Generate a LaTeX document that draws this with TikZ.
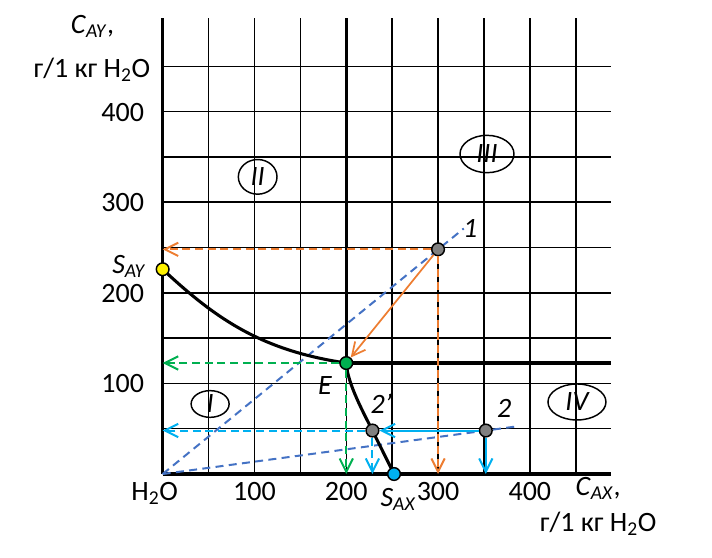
\documentclass[tikz,border=0pt]{standalone}
\usepackage{fontspec}
\setmainfont{Carlito}
\usetikzlibrary{arrows.meta,shapes.geometric}

\definecolor{tieblue}{RGB}{68,114,196}
\definecolor{arrorange}{RGB}{237,125,49}
\definecolor{eqgreen}{RGB}{0,176,80}
\definecolor{rafcyan}{RGB}{0,176,240}
\definecolor{ptgray}{RGB}{128,128,128}

\begin{document}
\begin{tikzpicture}[x=0.6885pt,y=0.6795pt,>={Straight Barb[length=10pt,width=10pt]},
  font=\fontsize{21}{25}\selectfont]
  \tikzstyle{gridline}=[line width=1.1pt]
  \tikzstyle{boldline}=[line width=2.3pt]
  \tikzstyle{tie}=[tieblue,line width=1.5pt,dash pattern=on 6pt off 4pt]
  \tikzstyle{proj}=[->,line width=1.5pt,dash pattern=on 6pt off 3.5pt]
  \tikzstyle{dot}=[circle,draw=black,line width=1.1pt,inner sep=0pt,minimum size=9.5pt]
  \tikzstyle{region}=[ellipse,draw=black,line width=1.1pt,inner sep=0pt,font=\fontsize{21}{25}\selectfont\itshape]
  \tikzstyle{lbl}=[inner sep=0pt]

  \useasboundingbox (-177.2,-91.6) rectangle (598.4,523.2);

  % grid
  \foreach \gx in {50,100,...,450}
    \draw[gridline] (\gx,0) -- (\gx,503);
  \foreach \gy in {50,100,...,450}
    \draw[gridline] (0,\gy) -- (488,\gy);

  % axes
  \coordinate (O) at (0,0);
  \coordinate (xend) at (488,0);
  \coordinate (yend) at (0,503);
  \draw[boldline] (O) -- (xend);
  \draw[boldline] (O) -- (yend);

  % tie lines
  \coordinate (t1) at (328,271);
  \coordinate (t2) at (386,52.6);
  \draw[tie] (O) -- (t1);
  \draw[tie] (O) -- (t2);

  % region borders and solubility curve
  \coordinate (Ec) at (200,122.5);
  \coordinate (Etop) at (200,503);
  \coordinate (Eright) at (488,122.5);
  \coordinate (SAYc) at (0,226);
  \coordinate (SAXc) at (252,0);
  \coordinate (p2pc) at (228.5,48);
  \draw[boldline] (Ec) -- (Etop);
  \draw[boldline] (Ec) -- (Eright);
  \draw[boldline] (SAYc) .. controls (60,169) and (110,136) .. (Ec);
  \draw[boldline,line join=round] (Ec) .. controls (201,100) and (220.5,64.3) .. (p2pc) -- (SAXc);

  % points
  \node[dot,fill=yellow]     (SAY) at (SAYc) {};
  \node[dot,fill=eqgreen]    (E)   at (Ec) {};
  \node[dot,fill=rafcyan]    (SAX) at (SAXc) {};
  \node[dot,fill=ptgray]     (p1)  at (300,248) {};
  \node[dot,fill=ptgray]     (p2)  at (352,48) {};
  \node[dot,fill=ptgray]     (p2p) at (p2pc) {};

  % projections
  \draw[proj,arrorange] (p1) -- (p1 -| O);
  \draw[proj,arrorange] (p1) -- (p1 |- O);
  \draw[->,arrorange,line width=1.3pt] (p1) -- (E);
  \draw[proj,eqgreen] (E) -- (E -| O);
  \draw[proj,eqgreen] (E) -- (E |- O);
  \draw[->,rafcyan,line width=1.5pt] (p2) -- (p2p);
  \draw[->,rafcyan,line width=1.5pt] (p2) -- (p2 |- O);
  \draw[proj,rafcyan] (p2p) -- (p2p -| O);
  \draw[proj,rafcyan] (p2p) -- (p2p |- O);

  % regions
  \node[region,minimum width=28.5pt,minimum height=20pt] (rI)   at (51.7,77.3)  {I};
  \node[region,minimum width=29pt,minimum height=26pt]   (rII)  at (103.5,328)  {II};
  \node[region,minimum width=40.5pt,minimum height=28pt] (rIII) at (353.3,353.2) {III};
  \node[region,minimum width=43.5pt,minimum height=27pt] (rIV)  at (451.3,79.5) {IV};

  % tick labels
  \foreach \v in {100,200,300,400}
    \node[lbl,anchor=base east] (ty\v) at (-20,\v-10.5) {\v};
  \foreach \v in {100,200,300,400}
    \node[lbl,anchor=base] (tx\v) at (\v,-28.7) {\v};
  \node[lbl,anchor=base] (tx0) at (-8.7,-28.7) {H\textsubscript{2}O};

  % axis titles
  \node[lbl,anchor=base] (cay) at (-76.5,486.4) {\textit{C}\textsubscript{\textit{AY}},};
  \node[lbl,anchor=base] (cayu) at (-77,438) {г/1 кг H\textsubscript{2}O};
  \node[lbl,anchor=base] (cax) at (474.4,-23.2) {\textit{C}\textsubscript{\textit{AX}},};
  \node[lbl,anchor=base] (caxu) at (474.4,-63) {г/1 кг H\textsubscript{2}O};

  % point labels
  \node[lbl,anchor=base east] (lSAY) at (-18,221.5) {\textit{S}\textsubscript{\textit{AY}}};
  \node[lbl,anchor=base west] (lSAX) at (237,-36) {\textit{S}\textsubscript{\textit{AX}}};
  \node[lbl,anchor=base] (lE)  at (177,88.3) {\textit{E}};
  \node[lbl,anchor=base] (l2p) at (238,67) {\textit{2'}};
  \node[lbl,anchor=base] (l2)  at (372,62.6) {\textit{2}};
  \node[lbl,anchor=base] (l1)  at (335,261) {\textit{1}};
\end{tikzpicture}
\end{document}
